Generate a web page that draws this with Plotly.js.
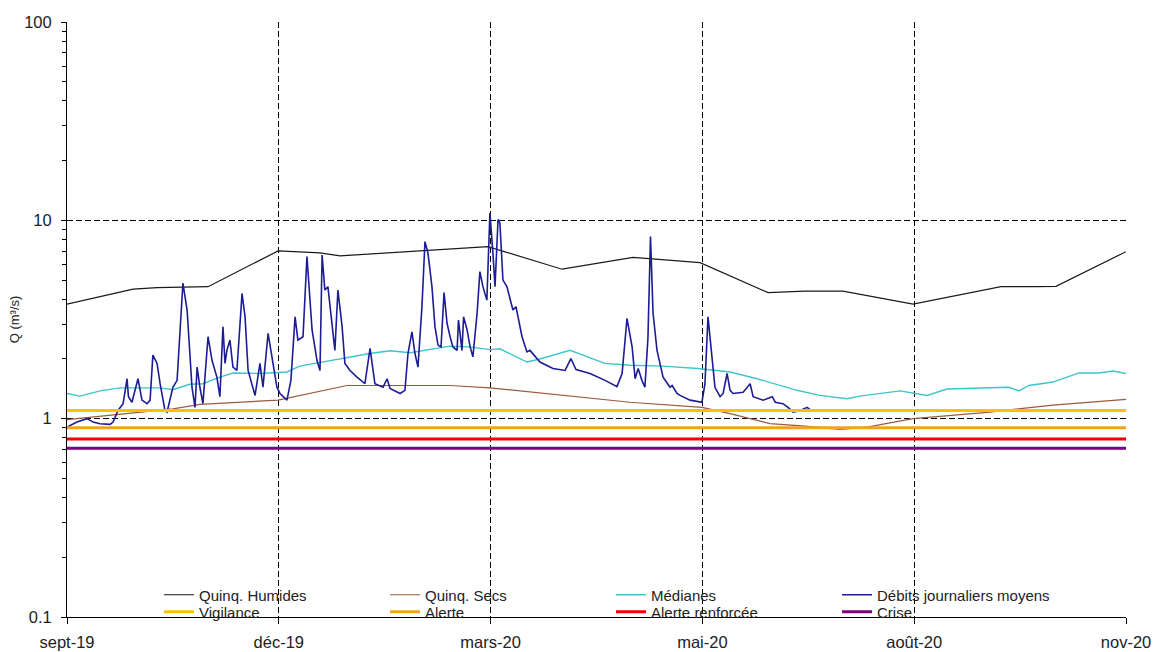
<!DOCTYPE html>
<html>
<head>
<meta charset="utf-8">
<script src="https://cdn.plot.ly/plotly-3.0.1.min.js"></script>
<style>html,body{margin:0;padding:0;background:#fff}#chart{width:1156px;height:652px}</style>
</head>
<body>
<div id="chart"></div>
<script>
// x positions are days after 2019-09-01
const tickDays = [0, 91, 182, 273, 364, 455];
const tickLabels = ['sept-19', 'déc-19', 'mars-20', 'mai-20', 'août-20', 'nov-20'];

const humidesDays = [0, 28.4, 38.7, 60.6, 90.7, 108.7, 117.3, 138.8, 153.8, 180.9, 212.7, 243.2, 272, 301.2, 317.1, 333.4, 363.5, 392.7, 401.3, 416.3, 424.9, 455];
const humidesQ    = [3.78, 4.50, 4.58, 4.63, 7.01, 6.85, 6.62, 6.87, 7.09, 7.37, 5.67, 6.51, 6.12, 4.32, 4.40, 4.40, 3.78, 4.45, 4.63, 4.63, 4.65, 6.95];

const secsDays = [0, 32.7, 45.5, 57.1, 90.7, 120.3, 164.6, 181.7, 241.9, 272.8, 284.9, 302, 317.1, 332.1, 343.7, 363.5, 396.6, 423.6, 455];
const secsQ    = [0.99, 1.08, 1.12, 1.18, 1.24, 1.47, 1.47, 1.43, 1.21, 1.14, 1.06, 0.944, 0.918, 0.883, 0.907, 1.0, 1.08, 1.17, 1.25];

const medDays = [0, 5.6, 14.2, 22.8, 40, 45.5, 52.8, 58.4, 65.7, 71.3, 83, 94.5, 100, 111.7, 122.9, 130.2, 138.8, 147.4, 164.6, 173, 181.7, 186, 197.6, 203.2, 216.1, 231.1, 241.9, 256, 271, 284.9, 296.5, 313.6, 323.5, 335.1, 340.7, 357.9, 369.5, 378.1, 404.7, 409, 413.3, 423.6, 434.8, 443.4, 449.4, 455];
const medQ    = [1.34, 1.30, 1.38, 1.43, 1.43, 1.40, 1.49, 1.50, 1.62, 1.70, 1.69, 1.72, 1.84, 1.95, 2.05, 2.13, 2.20, 2.15, 2.32, 2.30, 2.23, 2.25, 1.93, 2.00, 2.21, 1.90, 1.86, 1.84, 1.79, 1.72, 1.59, 1.39, 1.31, 1.26, 1.30, 1.38, 1.31, 1.41, 1.44, 1.38, 1.47, 1.53, 1.70, 1.70, 1.74, 1.69];

const debitDays = [0, 4.3, 8.6, 11.2, 14.2, 18.5, 19.8, 21.9, 24.1, 25.8, 26.4, 27.9, 30.5, 32.2, 34.4, 35.7, 36.9, 38.7, 40.0, 42.1, 43.0, 45.5, 47.3, 48.5, 49.8, 51.6, 53.7, 55.0, 55.9, 57.1, 58.4, 60.6, 62.3, 64.4, 65.7, 67.0, 67.9, 68.7, 70.0, 71.3, 73.0, 75.2, 76.5, 77.8, 80.8, 82.9, 84.2, 86.4, 88.1, 90.2, 91.5, 94.5, 96.2, 98.0, 99.2, 101.4, 103.1, 105.3, 107.4, 108.7, 109.6, 110.8, 112.1, 113.9, 115.1, 116.4, 118.2, 119.4, 121.6, 124.6, 128.0, 130.2, 132.3, 135.8, 137.5, 138.8, 143.1, 145.2, 146.5, 148.2, 149.5, 150.8, 152.5, 153.8, 155.1, 156.8, 158.1, 159.4, 160.7, 162.0, 163.3, 164.6, 165.8, 167.6, 168.2, 169.7, 170.4, 171.9, 173.2, 174.4, 176.2, 177.4, 178.7, 180.4, 181.7, 183.0, 183.9, 185.2, 186.0, 187.3, 189.0, 191.6, 192.9, 195.5, 197.6, 198.9, 201.5, 203.2, 208.8, 214.0, 216.5, 218.7, 224.7, 231.2, 236.3, 238.5, 240.6, 242.8, 244.1, 245.4, 247.0, 248.3, 249.6, 250.7, 251.8, 253.5, 256.1, 259.1, 260.0, 262.1, 263.4, 267.7, 272.8, 274.1, 275.4, 277.1, 278.4, 280.6, 281.9, 283.6, 284.9, 286.2, 290.5, 293.5, 294.8, 299.1, 303.0, 304.3, 307.6, 309.8, 312.0, 315.0, 318.0, 319.2];
const debitQ    = [0.907, 0.961, 1.0, 0.961, 0.943, 0.936, 0.961, 1.10, 1.19, 1.59, 1.29, 1.21, 1.59, 1.24, 1.19, 1.24, 2.09, 1.90, 1.50, 1.10, 1.08, 1.44, 1.56, 2.80, 4.82, 3.53, 1.44, 1.14, 1.82, 1.44, 1.19, 2.59, 1.97, 1.62, 1.29, 2.91, 1.90, 2.21, 2.49, 1.82, 1.75, 4.28, 3.26, 1.75, 1.31, 1.90, 1.44, 2.69, 2.05, 1.44, 1.34, 1.24, 1.56, 3.26, 2.49, 2.59, 6.56, 2.80, 1.97, 1.75, 6.69, 4.45, 4.63, 2.91, 2.21, 4.45, 2.91, 1.90, 1.75, 1.62, 1.50, 2.26, 1.50, 1.44, 1.59, 1.42, 1.34, 1.39, 2.13, 2.74, 2.13, 1.82, 3.67, 7.81, 6.83, 4.63, 2.91, 2.35, 2.30, 4.32, 3.02, 2.59, 2.30, 2.21, 3.14, 2.21, 3.26, 2.80, 2.30, 2.05, 3.40, 5.51, 4.63, 3.96, 10.9, 6.83, 4.63, 10.1, 9.68, 5.00, 4.63, 3.53, 3.67, 2.59, 2.17, 2.21, 2.05, 1.93, 1.79, 1.75, 2.01, 1.77, 1.69, 1.56, 1.45, 1.69, 3.20, 2.30, 1.59, 1.79, 1.56, 1.44, 2.55, 8.28, 3.40, 2.21, 1.62, 1.44, 1.47, 1.34, 1.31, 1.24, 1.21, 1.50, 3.26, 2.05, 1.44, 1.29, 1.34, 1.69, 1.39, 1.34, 1.36, 1.50, 1.29, 1.24, 1.29, 1.21, 1.19, 1.14, 1.08, 1.10, 1.14, 1.11];

const thresholdNames  = ['Vigilance', 'Alerte', 'Alerte renforcée', 'Crise'];
const thresholdQ      = [1.10, 0.90, 0.79, 0.71];
const thresholdColors = ['#FFC000', '#F7A11A', '#F00000', '#800080'];
const spanDays = [0, 455];

const t0 = Date.UTC(2019, 8, 1);
function toDate(d) {
  return new Date(t0 + d * 86400000).toISOString().slice(0, 19).replace('T', ' ');
}
const dates = arr => arr.map(toDate);

const traces = [
  {name: 'Quinq. Humides', x: dates(humidesDays), y: humidesQ, mode: 'lines', line: {color: '#1a1a1a', width: 1.2}, legend: 'legend'},
  {name: 'Quinq. Secs', x: dates(secsDays), y: secsQ, mode: 'lines', line: {color: '#9C5A3C', width: 1.2}, legend: 'legend'},
  {name: 'Médianes', x: dates(medDays), y: medQ, mode: 'lines', line: {color: '#3EC4CC', width: 1.4}, legend: 'legend'},
  {name: 'Débits journaliers moyens', x: dates(debitDays), y: debitQ, mode: 'lines', line: {color: '#1c1c96', width: 1.6}, legend: 'legend'}
];
thresholdNames.forEach((n, i) => {
  traces.push({name: n, x: dates(spanDays), y: [thresholdQ[i], thresholdQ[i]], mode: 'lines',
    line: {color: thresholdColors[i], width: 3}, legend: 'legend2'});
});

const FONT = 'Liberation Sans, Arial, sans-serif';
const legendCommon = {
  orientation: 'h', xanchor: 'left', yanchor: 'middle',
  bgcolor: 'rgba(0,0,0,0)', entrywidth: 181, entrywidthmode: 'pixels',
  font: {size: 15, color: '#222', family: FONT}
};

const layout = {
  width: 1156, height: 652,
  margin: {l: 67, r: 30, t: 22, b: 35},
  paper_bgcolor: '#fff', plot_bgcolor: '#fff',
  font: {family: FONT, size: 12, color: '#222'},
  showlegend: true,
  legend: Object.assign({}, legendCommon, {x: 0.0869, y: 0.037}),
  legend2: Object.assign({}, legendCommon, {x: 0.0869, y: 0.0084}),
  xaxis: {
    type: 'date',
    range: [toDate(spanDays[0]), toDate(spanDays[1])],
    tickmode: 'array', tickvals: dates(tickDays), ticktext: tickLabels,
    ticks: 'outside', ticklen: 6, tickcolor: '#000', ticklabelstandoff: 4,
    showline: true, linecolor: '#000', linewidth: 1,
    showgrid: true, gridcolor: '#000', gridwidth: 1, griddash: '6px,3px',
    zeroline: false, tickfont: {size: 16.5, color: '#222', family: FONT}
  },
  yaxis: {
    type: 'log', range: [-1, 2],
    tickmode: 'array', tickvals: [0.1, 1, 10, 100], ticktext: ['0.1', '1', '10', '100'],
    ticks: 'outside', ticklen: 5, tickcolor: '#000', ticklabelstandoff: 6,
    minor: {tickmode: 'array', tickvals: [0.2,0.3,0.4,0.5,0.6,0.7,0.8,0.9,2,3,4,5,6,7,8,9,20,30,40,50,60,70,80,90], ticks: 'outside', ticklen: 4, tickcolor: '#000', showgrid: false},
    showline: true, linecolor: '#000', linewidth: 1,
    showgrid: true, gridcolor: '#000', gridwidth: 1, griddash: '6px,3px',
    zeroline: false, tickfont: {size: 16.5, color: '#222', family: FONT},
    title: {text: 'Q (m³/s)', font: {size: 13, color: '#222', family: FONT}, standoff: 1}
  }
};

Plotly.newPlot('chart', traces, layout, {displayModeBar: false, staticPlot: true});
</script>
</body>
</html>
